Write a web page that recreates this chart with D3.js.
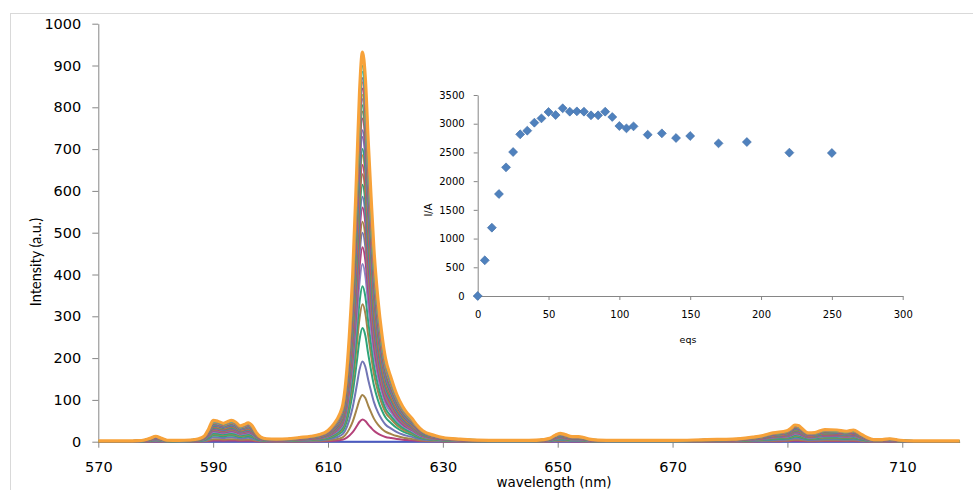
<!DOCTYPE html>
<html>
<head>
<meta charset="utf-8">
<script src="https://cdn.jsdelivr.net/npm/d3@7"></script>
<style>
  html, body { margin: 0; padding: 0; background: #fff; }
  svg { display: block; }
</style>
</head>
<body>
<div id="chart"></div>
<script>
// ---------------- DATA ----------------
// wavelength grid (nm)
const wavelengths = [
  570, 575, 577, 578, 579, 580, 581, 582, 584, 586, 587.5, 588.5, 589.2, 590, 590.8, 591.8,
  592.5, 593.2, 594, 594.7, 595.4, 596.1, 596.8, 597.5, 598.3, 599.3, 601, 603, 605, 607,
  608.5, 610, 611, 612, 612.6, 613, 613.7, 614.3, 615, 615.5, 616, 616.5, 617, 617.5, 618,
  618.7, 619.4, 620, 621, 622, 623, 623.8, 624.6, 625.4, 626.5, 628.6, 630, 633, 636, 640,
  645, 647.5, 648.6, 649.5, 650.4, 651.3, 652.5, 653.6, 654.5, 655.5, 657, 660, 670, 676,
  680.5, 684, 685.5, 687.5, 689.9, 690.6, 691.3, 692, 692.5, 693.6, 694.8, 696.5, 698.6,
  700.3, 701.5, 702.6, 703.8, 705, 706.5, 707.8, 709.6, 712, 720
];
// intensity of the strongest (last, orange) spectrum at each wavelength
const topSpectrum = [
  2, 2, 2.5, 4, 8, 13, 8, 3.5, 3, 4, 7, 14, 30, 51, 49, 44,
  48, 51, 46, 38, 41, 45, 38, 22, 11, 7, 6, 7, 10, 13,
  17, 27, 42, 65, 90, 130, 250, 400, 650, 840, 932, 870, 720, 585, 460,
  340, 255, 200, 152, 112, 84, 68, 56, 41, 26, 15, 10, 6, 4, 3,
  3, 5, 8, 15, 20, 17, 12, 12, 10, 6, 4, 3, 3, 5,
  6, 11, 14, 21, 26, 32, 40, 38, 32, 21, 22, 29, 28,
  25, 28, 20, 10.5, 5, 5, 7, 3.5, 2, 2
];
// 616 nm peak intensity of each recorded spectrum (0 eq ... 250 eq)
const peakIntensities = [
  0, 53, 112, 192, 272, 329, 372, 425, 465, 500, 526, 560, 586, 615, 640, 662,
  685, 700, 729, 745, 773, 790, 805, 820, 830, 845, 860, 870, 885, 900, 932
];
const seriesColors = [
  "#4B5BC4", "#B4427A", "#A4854A", "#7276B5", "#2EA47A", "#A4854A", "#2EA47A", "#8A86C4",
  "#B4427A", "#7276B5", "#A4854A", "#B4427A", "#7276B5", "#2EA47A", "#A4854A", "#B4427A",
  "#F07B3C", "#2EA47A", "#8D63A0", "#7276B5", "#B4427A", "#A4854A", "#2EA47A", "#7276B5",
  "#9BC94E", "#B4427A", "#F07B3C", "#8D63A0", "#33C4C9", "#2EA47A", "#F7A23A"
];
const xTicks = [570, 590, 610, 630, 650, 670, 690, 710];
const yTicks = [0, 100, 200, 300, 400, 500, 600, 700, 800, 900, 1000];

// inset
const insetEqs = [0, 5, 10, 15, 20, 25, 30, 35, 40, 45, 50, 55, 60, 65, 70, 75, 80, 85, 90, 95,
  100, 105, 110, 120, 130, 140, 150, 170, 190, 220, 250];
const insetIA = [0, 621, 1190, 1776, 2240, 2507, 2815, 2879, 3018, 3093, 3204, 3151, 3268, 3210,
  3215, 3210, 3146, 3146, 3210, 3117, 2960, 2919, 2954, 2809, 2832, 2751, 2786, 2658, 2681,
  2496, 2490];
const insetXTicks = [0, 50, 100, 150, 200, 250, 300];
const insetYTicks = [0, 500, 1000, 1500, 2000, 2500, 3000, 3500];

// ---------------- DRAW ----------------
const W = 973, H = 490;
const svg = d3.select("#chart").append("svg").attr("width", W).attr("height", H);

// outer frame
svg.append("rect").attr("x", 10.5).attr("y", 13.5).attr("width", 980).attr("height", 500)
  .attr("fill", "none").attr("stroke", "#D9D9D9").attr("stroke-width", 1);

const axisColor = "#868686";
const numFont = "DejaVu Sans, Verdana, sans-serif";
const fmt = d3.format("d");

const x = d3.scaleLinear().domain([570, 720]).range([98.3, 959.7]);
const y = d3.scaleLinear().domain([0, 1000]).range([441.7, 23.7]);

// axes
const yAxis = svg.append("g").attr("transform", `translate(${x(570)},0)`)
  .call(d3.axisLeft(y).tickValues(yTicks).tickSize(6).tickSizeOuter(0).tickPadding(11).tickFormat(fmt));
const xAxis = svg.append("g").attr("transform", `translate(0,${y(0)})`)
  .call(d3.axisBottom(x).tickValues(xTicks).tickSize(6).tickSizeOuter(0).tickPadding(14).tickFormat(fmt));
[yAxis, xAxis].forEach(g => {
  g.select(".domain").attr("stroke", axisColor);
  g.selectAll(".tick line").attr("stroke", axisColor);
  g.selectAll(".tick text").attr("fill", "#000").attr("font-family", numFont).attr("font-size", 14.5);
});

// spectra
const topPeak = d3.max(topSpectrum);
const seriesData = peakIntensities.map(p => wavelengths.map((w, j) => ({ w, v: topSpectrum[j] * p / topPeak })));
const line = d3.line().x(d => x(d.w)).y(d => y(d.v)).curve(d3.curveMonotoneX);

const gLines = svg.append("g");
seriesData.forEach((s, i) => {
  gLines.append("path").datum(s)
    .attr("d", line)
    .attr("fill", "none")
    .attr("stroke", seriesColors[i])
    .attr("stroke-width", i === seriesData.length - 1 ? 3.2 : 2)
    .attr("stroke-linejoin", "round");
});

svg.append("text").attr("x", 554).attr("y", 487).attr("text-anchor", "middle")
  .attr("font-family", numFont).attr("font-size", 13.5).attr("fill", "#000").text("wavelength (nm)");
svg.append("text").attr("transform", "translate(41,262) rotate(-90)").attr("text-anchor", "middle")
  .attr("font-family", "Lato, 'Open Sans', sans-serif").attr("font-size", 14.5).attr("fill", "#000")
  .text("Intensity (a.u.)");

// ---------------- INSET ----------------
const xi = d3.scaleLinear().domain([0, 300]).range([477.7, 902.7]);
const yi = d3.scaleLinear().domain([0, 3500]).range([296, 95]);
const ixAxis = svg.append("g").attr("transform", `translate(0,${yi(0)})`)
  .call(d3.axisBottom(xi).tickValues(insetXTicks).tickSize(4).tickSizeOuter(0).tickPadding(11).tickFormat(fmt));
const iyAxis = svg.append("g").attr("transform", `translate(${xi(0)},0)`)
  .call(d3.axisLeft(yi).tickValues(insetYTicks).tickSize(4).tickSizeOuter(0).tickPadding(9).tickFormat(fmt));
[ixAxis, iyAxis].forEach(g => {
  g.select(".domain").attr("stroke", axisColor);
  g.selectAll(".tick line").attr("stroke", axisColor);
  g.selectAll(".tick text").attr("fill", "#000").attr("font-family", numFont).attr("font-size", 10);
});
svg.append("text").attr("x", 688).attr("y", 343).attr("text-anchor", "middle")
  .attr("font-family", numFont).attr("font-size", 9.5).attr("fill", "#000").text("eqs");
svg.append("text").attr("transform", "translate(432,210) rotate(-90)").attr("text-anchor", "middle")
  .attr("font-family", numFont).attr("font-size", 10).attr("fill", "#000").text("I/A");

const diamond = d3.symbol().type(d3.symbolSquare).size(40);
svg.append("g").selectAll("path").data(insetEqs.map((e, i) => [e, insetIA[i]])).join("path")
  .attr("d", diamond)
  .attr("transform", d => `translate(${xi(d[0])},${yi(d[1])}) rotate(45)`)
  .attr("fill", "#4F81BD").attr("stroke", "#3F6EA6").attr("stroke-width", 0.6);
</script>
</body>
</html>
